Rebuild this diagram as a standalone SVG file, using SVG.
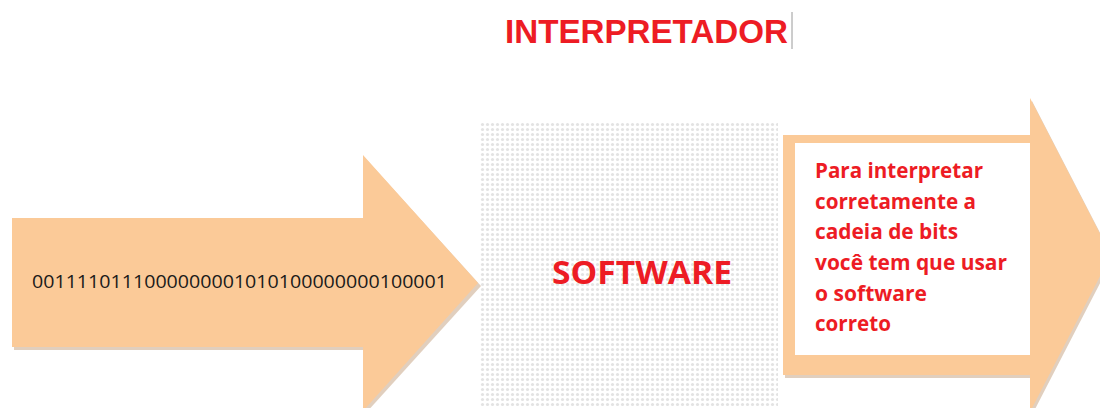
<svg xmlns="http://www.w3.org/2000/svg" width="1100" height="408" viewBox="0 0 1100 408">
<style>
.arrow{fill:#FBCA98;}
.shadow{fill:#C9A888;opacity:0.55;}
.title{fill:#ED1C24;font-family:"Liberation Sans",Arial,sans-serif;font-weight:bold;}
.red{fill:#ED1C24;font-family:"Open Sans","Liberation Sans",sans-serif;font-weight:bold;}
.bin{fill:#1a1a1a;font-family:"Open Sans","Liberation Sans",sans-serif;font-size:19px;}
</style>
<defs>
<pattern id="dots" x="480" y="122" width="5" height="5" patternUnits="userSpaceOnUse">
<circle cx="2.5" cy="2.5" r="1.6" fill="#E3E3E3"/>
</pattern>
</defs>
<rect width="1100" height="408" fill="#FFFFFF"/>
<g id="title">
<text class="title" x="505" y="43" font-size="34" textLength="283" lengthAdjust="spacingAndGlyphs">INTERPRETADOR</text>
<line x1="792" y1="12" x2="792" y2="49" stroke="#9a9a9a" stroke-width="1"/>
</g>
<g id="input-arrow">
<path class="shadow" d="M14,221 L365,221 L365,158 L481,286 L365,414 L365,350 L14,350 Z"/>
<path class="arrow" d="M12,218 L363,218 L363,155 L478,283 L363,411 L363,347 L12,347 Z"/>
<text class="bin" x="32" y="288" textLength="415" lengthAdjust="spacingAndGlyphs">0011110111000000001010100000000100001</text>
</g>
<g id="software">
<rect x="480" y="122" width="298" height="284" fill="url(#dots)"/>
<text class="red" x="642" y="284" font-size="32" text-anchor="middle" textLength="180" lengthAdjust="spacingAndGlyphs">SOFTWARE</text>
</g>
<g id="output-arrow">
<path class="shadow" d="M785,138 L1032,138 L1032,101 L1113,258 L1032,415 L1032,378 L785,378 Z"/>
<path class="arrow" d="M783,135 L1030,135 L1030,98 L1111,255 L1030,412 L1030,375 L783,375 Z"/>
<rect x="795" y="143" width="235" height="212" fill="#FFFFFF"/>
<text class="red" font-size="21">
<tspan x="815" y="178" textLength="168" lengthAdjust="spacingAndGlyphs">Para interpretar</tspan>
<tspan x="815" y="209" textLength="161" lengthAdjust="spacingAndGlyphs">corretamente a</tspan>
<tspan x="815" y="239" textLength="143" lengthAdjust="spacingAndGlyphs">cadeia de bits</tspan>
<tspan x="815" y="270" textLength="192" lengthAdjust="spacingAndGlyphs">você tem que usar</tspan>
<tspan x="815" y="301" textLength="112" lengthAdjust="spacingAndGlyphs">o software</tspan>
<tspan x="815" y="331" textLength="76" lengthAdjust="spacingAndGlyphs">correto</tspan>
</text>
</g>
<g id="connectors"></g>
</svg>
